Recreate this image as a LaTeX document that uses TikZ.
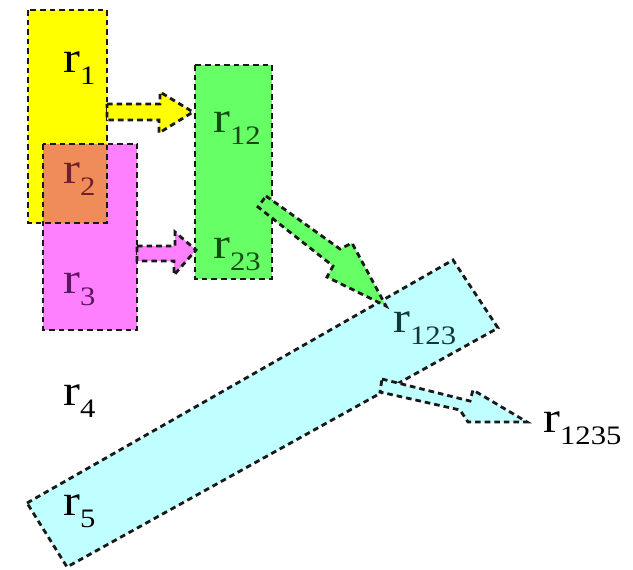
\documentclass[tikz,border=0pt]{standalone}
\usepackage{fontspec}
\setmainfont{Liberation Serif}[FakeStretch=1.15]
\definecolor{cyellow}{RGB}{255,255,0}
\definecolor{cpink}{RGB}{255,128,255}
\definecolor{corange}{RGB}{240,140,90}
\definecolor{cgreen}{RGB}{102,255,102}
\definecolor{ccyan}{RGB}{192,255,255}
\definecolor{tred}{RGB}{110,30,45}
\definecolor{tpurple}{RGB}{95,20,95}
\definecolor{tgreen}{RGB}{20,75,20}
\definecolor{tteal}{RGB}{20,55,55}
\definecolor{edgecol}{RGB}{25,25,25}
\newcommand\rlab[1]{r\raisebox{-9pt}{\fontsize{20}{22}\selectfont #1}}
\begin{document}
\begin{tikzpicture}[x=0.75pt,y=-0.75pt,
  edge/.style={draw=edgecol, line width=2.1pt, dash pattern=on 4.2pt off 3pt, line join=miter},
  lab/.style={anchor=base west, inner sep=0pt, font=\fontsize{33}{35}\selectfont}]
\useasboundingbox (0,0) rectangle (633,569);
% region corners
\coordinate (y1) at (28,10);   \coordinate (y2) at (107,223);
\coordinate (p1) at (43,144);  \coordinate (p2) at (137,330);
\coordinate (g1) at (195,65);  \coordinate (g2) at (272,279);
\coordinate (c1) at (27,503);  \coordinate (c2) at (453,260);
\coordinate (c3) at (498,328); \coordinate (c4) at (67,567);
% fills
\fill[cyellow] (y1) rectangle (y2);
\fill[cpink] (p1) rectangle (p2);
\fill[corange] (p1) rectangle (y2);
\fill[cgreen] (g1) rectangle (g2);
\fill[ccyan] (c1) -- (c2) -- (c3) -- (c4) -- cycle;
% borders
\path[edge] (y1) rectangle (y2);
\path[edge] (p1) rectangle (p2);
\path[edge] (g1) rectangle (g2);
\path[edge] (c1) -- (c2) -- (c3) -- (c4) -- cycle;
% block arrows
\path[edge, fill=cyellow] (107,104) -- (160,104) -- (160,92) -- (193,112) -- (159,133) -- (159,120) -- (107,120) -- cycle;
\path[edge, fill=cpink] (137,246) -- (175,246) -- (175,232) -- (196,250) -- (174,275) -- (174,261) -- (137,261) -- cycle;
\path[edge, fill=cgreen] (266,196) -- (340,249) -- (352,243) -- (386,306) -- (327,277) -- (333,266) -- (258,207) -- cycle;
\path[edge, fill=ccyan] (382,379) -- (470,401) -- (473,390) -- (527,422) -- (468,422) -- (460,410) -- (380,392) -- cycle;
% labels
\node[lab] (r1) at (63,72) {\rlab{1}};
\node[lab, text=tred] (r2) at (63,183) {\rlab{2}};
\node[lab, text=tpurple] (r3) at (63,293) {\rlab{3}};
\node[lab, text=tgreen] (r12) at (213,132) {\rlab{12}};
\node[lab, text=tgreen] (r23) at (213,258) {\rlab{23}};
\node[lab, text=tteal] (r123) at (393,332) {\rlab{123}};
\node[lab] (r4) at (63,405) {\rlab{4}};
\node[lab] (r5) at (63,515) {\rlab{5}};
\node[lab] (r1235) at (543,432) {\rlab{1235}};
\end{tikzpicture}
\end{document}
